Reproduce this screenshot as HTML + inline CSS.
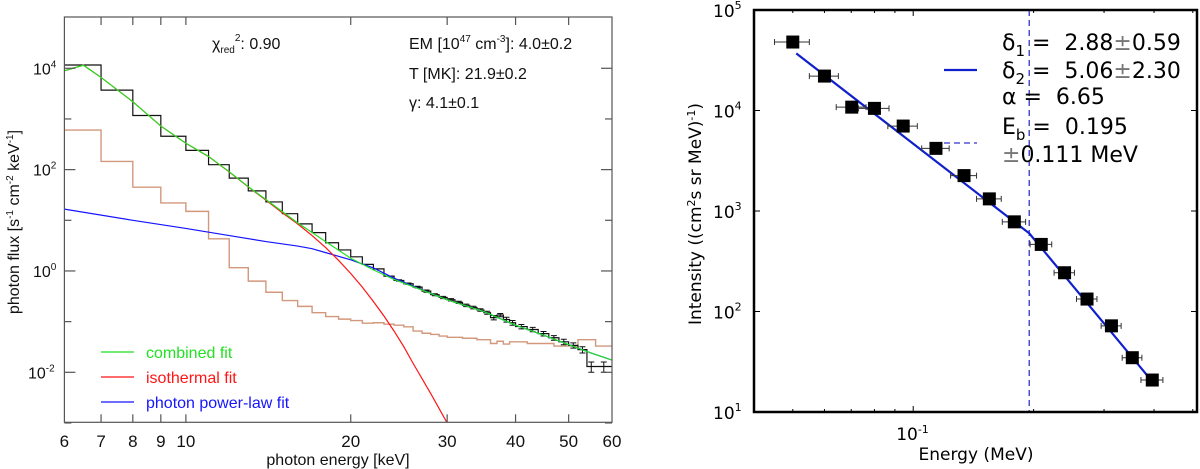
<!DOCTYPE html>
<html><head><meta charset="utf-8">
<style>
body{margin:0;background:#fff;}
svg{display:block;font-family:"Liberation Sans",sans-serif;}
#right text{font-family:"DejaVu Sans","Liberation Sans",sans-serif;}
</style></head>
<body>
<svg id="chart" width="1200" height="469" viewBox="0 0 1200 469" xmlns="http://www.w3.org/2000/svg">
<g id="left"></g>
<g id="right"></g>
</svg>
<script>
// ===== Left chart data =====
const histEdges = [6,7,8,9,10,11,12,13,14,15,16,17,18,19,20,21,22,23,24,25,26,27,28,29,30,31,32,33,34,35,36,37,38,39,40,42,44,46,48,50,52,54,56,60];
const histValues = [11600,3700,1170,455,240,125,68,38,23,13.5,8.5,5.7,3.6,2.6,1.9,1.35,1.1,0.79,0.65,0.56,0.48,0.4,0.34,0.3,0.27,0.24,0.21,0.19,0.17,0.15,0.12,0.135,0.11,0.095,0.08,0.07,0.058,0.048,0.04,0.034,0.028,0.013,0.013];
const histErr = [0,0,0,0,0,0,0,0,0,0,0,0,0,0,0,0,0,0,0.02,0.02,0.02,0.02,0.015,0.015,0.014,0.012,0.012,0.011,0.01,0.01,0.012,0.01,0.012,0.01,0.008,0.007,0.006,0.005,0.005,0.004,0.004,0.003,0.003];
const bgEdges = [6,7,8,9,10,11,12,13,14,15,16,17,18,19,20,21,22,23,24,25,26,27,28,29,30,32,34,36,37,38,39,42,47,52,56,60];
const bgValues = [603,145,45,22,15,4.3,1.16,0.63,0.38,0.26,0.20,0.15,0.126,0.112,0.105,0.093,0.095,0.089,0.085,0.079,0.065,0.059,0.056,0.052,0.049,0.047,0.044,0.037,0.041,0.036,0.040,0.037,0.033,0.044,0.033];
const fitE = [6,6.5,7,8,9,10,11,12,13,14,15,16,17,18,20,22,24,28,30,35,40,45,50,55,60];
const combinedFit = [8900,11500,6600,2190,724,331,182,91,46,25.7,14.8,8.9,5.75,3.8,1.78,1.05,0.68,0.36,0.27,0.158,0.085,0.054,0.035,0.024,0.0174];
const thermE = [6,6.5,7,8,9,10,11,12,13,14,15,16,17,18,19,20,21,22,23,24,25,26,28,30,31.5];
const thermFit = [8900,11500,6600,2190,724,331,181,90,45.5,25,14.1,8.5,5.0,2.9,1.62,0.89,0.48,0.25,0.129,0.065,0.032,0.015,0.0038,0.001,0.00035];
const plE = [6,8,10,12,14,16,17,18,20,22,24,28,30,35,40,45,50,55,60];
const plFit = [16.6,10,6.9,5.0,3.8,3.1,2.75,2.3,1.66,1.15,0.72,0.36,0.27,0.158,0.085,0.054,0.035,0.024,0.0174];
const xTicksL = [6,7,8,9,10,20,30,40,50,60];
const yTicksL = [4,2,0,-2];

// ===== Right chart data =====
const ptE = [0.05,0.06,0.0702,0.08,0.0944,0.114,0.134,0.155,0.179,0.209,0.239,0.272,0.313,0.353,0.396];
const ptI = [48000,22000,10800,10500,7000,4200,2250,1320,780,465,243,133,72,34.7,20.8];
const ptdE = [0.005,0.005,0.006,0.007,0.008,0.009,0.010,0.011,0.012,0.013,0.014,0.016,0.018,0.020,0.025];
const bplE = [0.051,0.195,0.385];
const bplI = [37000,600,23];
const breakE = 0.195;
const yTicksR = [5,4,3,2,1];

const NS='http://www.w3.org/2000/svg';
function mk(tag, attrs, parent, text){
  const e=document.createElementNS(NS,tag);
  for(const k in attrs) e.setAttribute(k,attrs[k]);
  if(text!==undefined) e.textContent=text;
  parent.appendChild(e); return e;
}
const L={x0:64.4,x1:612,y0:17,y1:422.3};
const lx=e=>L.x0+(L.x1-L.x0)*Math.log10(e/6);
const ly=v=>372.3-(Math.log10(v)+2)*50.67;
const gl=document.getElementById('left');
const clipL=mk('clipPath',{id:'clipL'},gl);
mk('rect',{x:L.x0,y:L.y0,width:L.x1-L.x0,height:L.y1-L.y0},clipL);
const plotL=mk('g',{'clip-path':'url(#clipL)'},gl);
function stepPath(edges,vals){
  let d='M'+lx(edges[0])+','+ly(vals[0]);
  for(let i=0;i<vals.length;i++){
    d+=' L'+lx(edges[i])+','+ly(vals[i])+' L'+lx(edges[i+1])+','+ly(vals[i]);
  }
  return d;
}
function linePath(xs,ys,fx,fy){return xs.map((x,i)=>(i?'L':'M')+fx(x)+','+fy(ys[i])).join(' ');}
let p;
p=mk('path',{d:stepPath(bgEdges,bgValues),fill:'none',stroke:'#d2987c','stroke-width':1.4},plotL);


p=mk('path',{d:stepPath(histEdges,histValues),fill:'none',stroke:'#111','stroke-width':1.2},plotL);


for(let i=0;i<histValues.length;i++){
  if(!histErr[i]) continue;
  const cx=(lx(histEdges[i])+lx(histEdges[i+1]))/2;
  const a=ly(histValues[i]+histErr[i]), b=ly(Math.max(histValues[i]-histErr[i],1e-4));
  const eb=mk('path',{d:`M${cx},${a} L${cx},${b} M${cx-3},${a} L${cx+3},${a} M${cx-3},${b} L${cx+3},${b}`,stroke:'#111','stroke-width':1,fill:'none'},plotL);
  
  
}
p=mk('path',{d:linePath(plE,plFit,lx,ly),fill:'none',stroke:'#1515ff','stroke-width':1.2},plotL);


p=mk('path',{d:linePath(thermE,thermFit,lx,ly),fill:'none',stroke:'#ff1515','stroke-width':1.2},plotL);


p=mk('path',{d:linePath(fitE,combinedFit,lx,ly),fill:'none',stroke:'#22e022','stroke-width':1.2},plotL);


mk('rect',{x:L.x0,y:L.y0,width:L.x1-L.x0,height:L.y1-L.y0,fill:'none',stroke:'#555','stroke-width':1.2},gl);
xTicksL.forEach(t=>{
  const x=lx(t);
  if(t!==6&&t!==60){mk('line',{x1:x,x2:x,y1:L.y1,y2:L.y1-8,stroke:'#555','stroke-width':1.2},gl);mk('line',{x1:x,x2:x,y1:L.y0,y2:L.y0+8,stroke:'#555','stroke-width':1.2},gl);}
  const tl=mk('text',{x:x,y:447,'font-size':17,'text-anchor':'middle',fill:'#111'},gl,String(t));
  
  
});
[-3,-1,1,3].forEach(k=>{const y=ly(Math.pow(10,k));
  mk('line',{x1:L.x0,x2:L.x0+7,y1:y,y2:y,stroke:'#555','stroke-width':1.2},gl);
  mk('line',{x1:L.x1,x2:L.x1-7,y1:y,y2:y,stroke:'#555','stroke-width':1.2},gl);});
yTicksL.forEach(k=>{const y=ly(Math.pow(10,k));
  mk('line',{x1:L.x0,x2:L.x0+11,y1:y,y2:y,stroke:'#555','stroke-width':1.2},gl);
  mk('line',{x1:L.x1,x2:L.x1-11,y1:y,y2:y,stroke:'#555','stroke-width':1.2},gl);
  const t=mk('text',{x:k<0?28:33,y:y+6,'font-size':16,fill:'#111'},gl);
  
  
  mk('tspan',{},t,'10');mk('tspan',{dy:-7,'font-size':10},t,String(k));
});
</script>
<script>
(function(){
const gl=document.getElementById('left');
gl.insertAdjacentHTML('beforeend',`
<text x="338" y="465" font-size="16" text-anchor="middle" fill="#111">photon energy [keV]</text>
<text transform="translate(19,222) rotate(-90)" font-size="16" text-anchor="middle" fill="#111">photon flux [s<tspan dy="-6" font-size="10">-1</tspan><tspan dy="6"> cm</tspan><tspan dy="-6" font-size="10">-2</tspan><tspan dy="6"> keV</tspan><tspan dy="-6" font-size="10">-1</tspan><tspan dy="6">]</tspan></text>
<text x="212" y="49" font-size="16" fill="#111">χ<tspan dy="4" font-size="10">red</tspan><tspan dy="-12" font-size="10">2</tspan><tspan dy="8">: 0.90</tspan></text>
<text x="409" y="49" font-size="16" fill="#111">EM [10<tspan dy="-7" font-size="10">47</tspan><tspan dy="7"> cm</tspan><tspan dy="-7" font-size="10">-3</tspan><tspan dy="7">]: 4.0±0.2</tspan></text>
<text x="409" y="79" font-size="16" fill="#111">T [MK]: 21.9±0.2</text>
<text x="409" y="108" font-size="16" fill="#111">γ: 4.1±0.1</text>
<g>
<line x1="101" x2="134" y1="352" y2="352" stroke="#22e022" stroke-width="1.2"/>
<text x="146" y="358" font-size="16" fill="#22e022">combined fit</text>
<line x1="101" x2="134" y1="377" y2="377" stroke="#ff1515" stroke-width="1.2"/>
<text x="146" y="383" font-size="16" fill="#ff1515">isothermal fit</text>
<line x1="101" x2="134" y1="402" y2="402" stroke="#1515ff" stroke-width="1.2"/>
<text x="146" y="408" font-size="16" fill="#1515ff">photon power-law fit</text>
</g>`);
})();
</script>
<script>
(function(){
const R={x0:754,x1:1197,y0:10,y1:412};
const rx=e=>913.2+400*Math.log10(e/0.1);
const ry=v=>10+(5-Math.log10(v))*100.5;
const g=document.getElementById('right');
let p;
p=mk('line',{x1:rx(breakE),x2:rx(breakE),y1:R.y0,y2:R.y1,stroke:'#3333cc','stroke-width':1.3,'stroke-dasharray':'6,4'},g);


mk('line',{x1:944,x2:977,y1:143,y2:143,stroke:'#3333cc','stroke-width':1.3,'stroke-dasharray':'6,4'},g);
p=mk('path',{d:linePath(bplE,bplI,rx,ry),fill:'none',stroke:'#1020cc','stroke-width':2.2},g);


for(let i=0;i<ptE.length;i++){
  const x=rx(ptE[i]),y=ry(ptI[i]);
  const a=rx(ptE[i]-ptdE[i]),b=rx(ptE[i]+ptdE[i]);
  const eb=mk('path',{d:`M${a},${y} L${b},${y} M${a},${y-3} L${a},${y+3} M${b},${y-3} L${b},${y+3}`,stroke:'#333','stroke-width':1},g);
  
  
  const r=mk('rect',{x:x-6.5,y:y-6.5,width:13,height:13,fill:'#000'},g);
  
  
}
mk('rect',{x:R.x0,y:R.y0,width:R.x1-R.x0,height:R.y1-R.y0,fill:'none',stroke:'#000','stroke-width':2.5},g);
const minor=[0.05,0.06,0.07,0.08,0.09,0.2,0.3,0.4,0.5];
minor.forEach(t=>{const x=rx(t);
  mk('line',{x1:x,x2:x,y1:R.y1,y2:R.y1-3,stroke:'#000','stroke-width':1},g);
  mk('line',{x1:x,x2:x,y1:R.y0,y2:R.y0+3,stroke:'#000','stroke-width':1},g);});
{const x=rx(0.1);
 mk('line',{x1:x,x2:x,y1:R.y1,y2:R.y1-6,stroke:'#000','stroke-width':1},g);
 mk('line',{x1:x,x2:x,y1:R.y0,y2:R.y0+6,stroke:'#000','stroke-width':1},g);
 const t=mk('text',{x:x-17,y:440,'font-size':17,fill:'#000'},g);
 
 
 mk('tspan',{},t,'10');mk('tspan',{dy:-7,'font-size':11},t,'-1');}
yTicksR.forEach(k=>{const y=ry(Math.pow(10,k));
  mk('line',{x1:R.x0,x2:R.x0+6,y1:y,y2:y,stroke:'#000','stroke-width':1},g);
  mk('line',{x1:R.x1,x2:R.x1-6,y1:y,y2:y,stroke:'#000','stroke-width':1},g);
  const t=mk('text',{x:713,y:y+7,'font-size':17,fill:'#000'},g);
  
  
  mk('tspan',{},t,'10');mk('tspan',{dy:-8,'font-size':11},t,String(k));});
mk('line',{x1:944,x2:977,y1:70,y2:70,stroke:'#1020cc','stroke-width':2.2},g);
g.insertAdjacentHTML('beforeend',`
<text x="976" y="460" font-size="17" text-anchor="middle" fill="#000">Energy (MeV)</text>
<text transform="translate(701,214) rotate(-90)" font-size="17" text-anchor="middle" fill="#000">Intensity ((cm<tspan dy="-6" font-size="11">2</tspan><tspan dy="6">s sr MeV)</tspan><tspan dy="-6" font-size="11">-1</tspan><tspan dy="6">)</tspan></text>
<g font-size="22" fill="#000">
<text x="1002" y="50">δ<tspan dy="6" font-size="15">1</tspan><tspan dy="-6">&#160;=&#160;&#160;2.88</tspan><tspan fill="#777">±</tspan>0.59</text>
<text x="1002" y="78">δ<tspan dy="6" font-size="15">2</tspan><tspan dy="-6">&#160;=&#160;&#160;5.06</tspan><tspan fill="#777">±</tspan>2.30</text>
<text x="1002" y="104">α&#160;=&#160;&#160;6.65</text>
<text x="1002" y="134">E<tspan dy="6" font-size="15">b</tspan><tspan dy="-6">&#160;=&#160;&#160;0.195</tspan></text>
<text x="1002" y="162"><tspan fill="#777">±</tspan>0.111 MeV</text>
</g>`);
})();
</script>
</body></html>
